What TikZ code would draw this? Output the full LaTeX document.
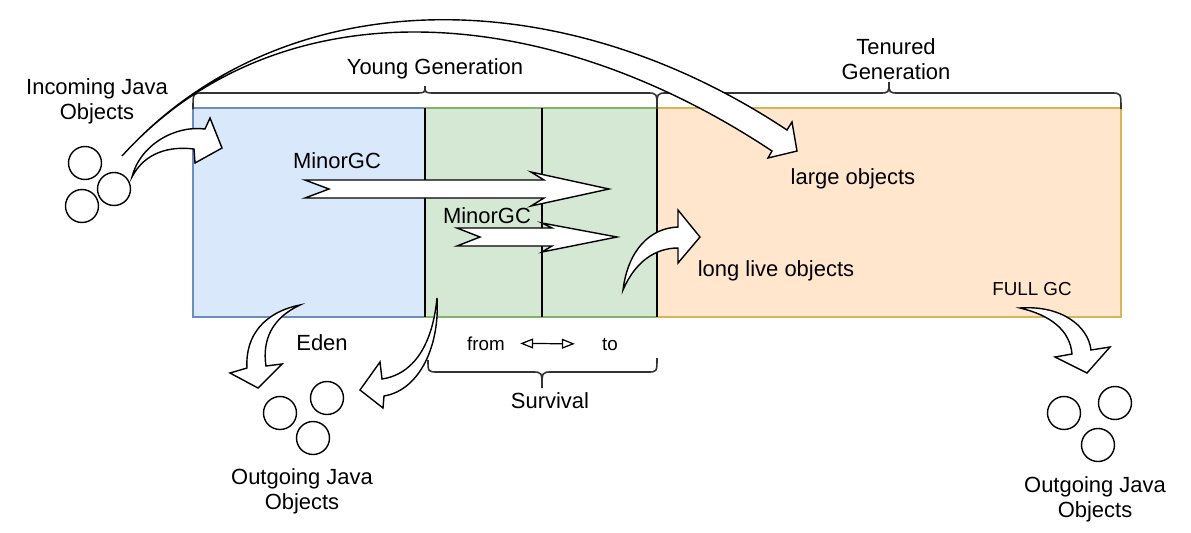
\documentclass[tikz,border=0pt]{standalone}
\usepackage{fontspec}
\setmainfont{Liberation Sans}
\tikzset{lbl/.style = {inner sep=0pt, anchor=base, align=center, font=\fontsize{12.5}{14.2}\selectfont},
         smalllbl/.style = {lbl, font=\fontsize{10.7}{12.8}\selectfont},
         blockarrow/.style = {draw=black, fill=white, line width=0.8pt, line join=miter},
         brace/.style = {draw=black!80, line width=0.9pt},
         obj/.style = {circle, draw=black, line width=0.8pt, minimum size=0.66cm, inner sep=0pt}}
\usetikzlibrary{arrows.meta}
\definecolor{edenfill}{HTML}{DAE8FC}
\definecolor{edenline}{HTML}{6C8EBF}
\definecolor{survfill}{HTML}{D5E8D4}
\definecolor{survline}{HTML}{82B366}
\definecolor{tenfill}{HTML}{FFE6CC}
\definecolor{tenline}{HTML}{D6B656}

\begin{document}
\begin{tikzpicture}[x=0.02cm,y=-0.02cm]
	\useasboundingbox (0,0) rectangle (1191,532);
\draw [edenline, fill=edenfill, line width=0.8pt] (193,108) rectangle (425,317);
\draw [survline, fill=survfill, line width=0.8pt] (425,108) rectangle (657,317);
\draw [tenline, fill=tenfill, line width=0.8pt] (657,108) rectangle (1121,317);
\draw [line width=0.8pt] (425,108) -- (425,317) (542,108) -- (542,317) (657,108) -- (657,317);
\draw [brace] (193,109) .. controls (193,93) .. (203,93) -- (415,93) .. controls (425,93) .. (425,86) .. controls (425,93) .. (435,93) -- (647,93) .. controls (657,93) .. (657,109);
\draw [brace] (657,109) .. controls (657,93) .. (667,93) -- (879,93) .. controls (889,93) .. (889,82) .. controls (889,93) .. (899,93) -- (1111,93) .. controls (1121,93) .. (1121,109);
\draw [brace] (428,360) .. controls (428,372) .. (438,372) -- (532,372) .. controls (542,372) .. (542,388) .. controls (542,372) .. (552,372) -- (647,372) .. controls (657,372) .. (657,358);
\node [obj] (in1) at (85,163) {};
\node [obj] (in2) at (114,189) {};
\node [obj] (in3) at (82,206) {};
\node [obj] (outa1) at (280,413) {};
\node [obj] (outa2) at (327,398) {};
\node [obj] (outa3) at (313,438) {};
\node [obj] (outb1) at (1064,413) {};
\node [obj] (outb2) at (1115,403) {};
\node [obj] (outb3) at (1098,445) {};
\draw [blockarrow] (132,177) .. controls (140,145) and (175,125) .. (205,129) -- (210,118) -- (222,148) -- (195,163) -- (194,149) .. controls (170,146) and (145,152) .. cycle;
\draw [blockarrow] (122,156) .. controls (279,-18) and (555,-24) .. (787,130) -- (792,122) -- (797,151) -- (768,158) -- (772,151) .. controls (540,-3) and (276,-14) .. cycle;
\draw [blockarrow] (305,180) -- (544,180) -- (531,172) -- (609,189) -- (531,206) -- (544,198) -- (305,198) -- (329,189) -- cycle;
\draw [blockarrow] (457,228) -- (552,228) -- (542,223) -- (617,237) -- (542,252) -- (552,246) -- (457,246) -- (480,237) -- cycle;
\draw [blockarrow] (300,305) .. controls (265,312) and (245,335) .. (247,368) -- (230,373) -- (258,388) -- (282,364) -- (266,366) .. controls (262,340) and (272,318) .. cycle;
\draw [blockarrow] (437,298) .. controls (440,345) and (420,390) .. (384,396) -- (383,408) -- (360,390) -- (380,362) -- (382,379) .. controls (410,375) and (432,350) .. cycle;
\draw [blockarrow] (623,290) .. controls (628,250) and (650,228) .. (678,227) -- (678,210) -- (700,237) -- (678,263) -- (678,248) .. controls (655,248) and (635,262) .. cycle;
\draw [blockarrow] (1020,308) .. controls (1060,305) and (1088,325) .. (1091,350) -- (1110,347) -- (1087,373) -- (1055,357) -- (1072,354) .. controls (1070,330) and (1050,315) .. cycle;
\node [lbl] (young) at (435,74) {Young Generation};
\node [lbl] (tenured) at (896,79) {Tenured\\Generation};
\node [lbl] (incoming) at (97,119) {Incoming Java\\Objects};
\node [lbl] (mgc1) at (337,168) {MinorGC};
\node [lbl] (mgc2) at (487,223) {MinorGC};
\node [lbl] (large) at (853,184) {large objects};
\node [lbl] (longlive) at (776,276) {long live objects};
\node [smalllbl] (fullgc) at (1032,295) {FULL GC};
\node [lbl] (eden) at (322,350) {Eden};
\node [smalllbl] (from) at (486,350) {from};
\node [smalllbl] (to) at (610,350) {to};
\node [lbl] (survival) at (550,408) {Survival};
\node [lbl] (outleft) at (302,509) {Outgoing Java\\Objects};
\node [lbl] (outright) at (1095,517) {Outgoing Java\\Objects};
\draw [{Triangle[open,length=0.26cm,width=0.2cm]}-{Triangle[open,length=0.26cm,width=0.2cm]}, line width=0.7pt, shorten <=0.3cm, shorten >=0.54cm] (from.east) -- (to.west);
\end{tikzpicture}
\end{document}
